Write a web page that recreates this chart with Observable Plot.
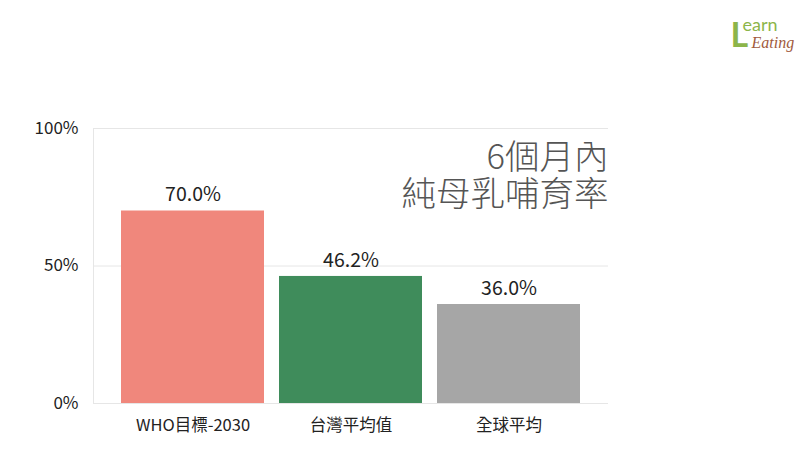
<!DOCTYPE html>
<html>
<head>
<meta charset="utf-8">
<script src="https://cdn.jsdelivr.net/npm/d3@7"></script>
<script src="https://cdn.jsdelivr.net/npm/@observablehq/plot@0.6"></script>
<style>
body { margin: 0; background: #fff; }
svg { font-family: "Noto Sans CJK TC", "Noto Sans", sans-serif; }
</style>
</head>
<body>
<div id="chart"></div>
<script>
const categories = ["WHO目標-2030", "台灣平均值", "全球平均"];
const values = [0.70, 0.462, 0.36];
const labels = ["70.0%", "46.2%", "36.0%"];
const colors = ["#f0877c", "#3f8c5b", "#a6a6a6"];
const yTicks = [0, 0.5, 1];
const title = "6個月內\n純母乳哺育率";

const data = categories.map((c, i) => ({cat: c, value: values[i], label: labels[i], color: colors[i]}));

const chart = Plot.plot({
  width: 800,
  height: 450,
  marginLeft: 93,
  marginRight: 192,
  marginTop: 128,
  marginBottom: 47,
  style: {fontFamily: '"Noto Sans CJK TC", "Noto Sans", sans-serif', background: "#fff"},
  x: {domain: categories, paddingInner: 0.094, paddingOuter: 0.167, label: null},
  y: {domain: [0, 1], label: null},
  marks: [
    Plot.gridY(yTicks, {stroke: "#e6e6e6", strokeOpacity: 1, strokeWidth: 1}),
    Plot.frame({anchor: "left", stroke: "#e6e6e6"}),
    Plot.barY(data, {x: "cat", y: "value", fill: "color"}),
    Plot.ruleY([0], {stroke: "#e6e6e6"}),
    Plot.axisY(yTicks, {tickFormat: d => Math.round(d * 100) + "%", tickSize: 0, tickPadding: 15, fontSize: 17, fill: "#222", label: null}),
    Plot.axisX({tickSize: 0, tickPadding: 16, fontSize: 16.5, fill: "#222", label: null}),
    Plot.text(data, {x: "cat", y: "value", text: "label", dy: -16, fontSize: 19.5, fill: "#222"}),
    Plot.text([title], {frameAnchor: "top-right", textAnchor: "end", lineAnchor: "top", lineHeight: 1.08, dy: 14, fontSize: 34.5, fill: "#555", fontWeight: 300}),
    Plot.text(["L"], {frameAnchor: "top-right", textAnchor: "start", dx: 122, dy: -106, fontSize: 34, fill: "#8cb54a", fontWeight: "bold", fontFamily: "Lato"}),
    Plot.text(["earn"], {frameAnchor: "top-right", textAnchor: "start", dx: 134, dy: -110, fontSize: 18, fill: "#8cb54a", fontFamily: "Lato"}),
    Plot.text(["Eating"], {frameAnchor: "top-right", textAnchor: "start", dx: 143, dy: -92, fontSize: 16, fill: "#a05a3c", fontStyle: "italic", fontFamily: "Liberation Serif"}),
  ]
});
document.getElementById("chart").appendChild(chart);
</script>
</body>
</html>
